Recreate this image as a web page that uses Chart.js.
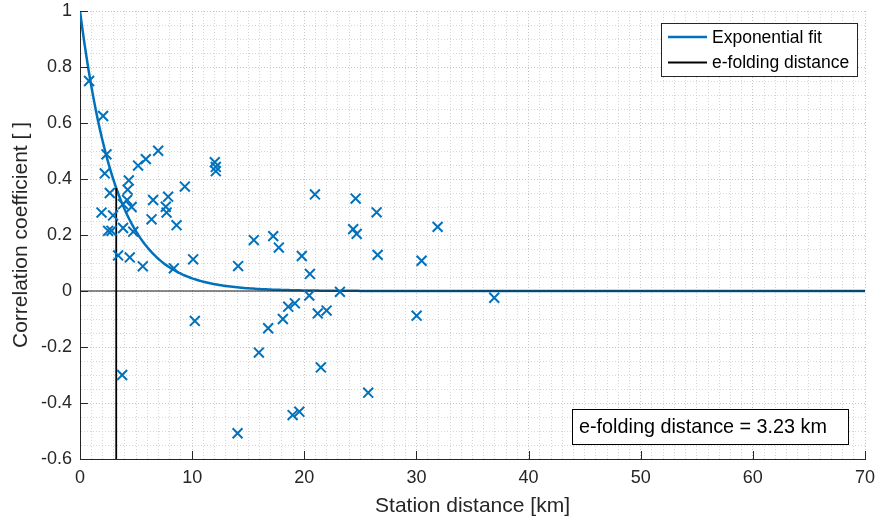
<!DOCTYPE html>
<html>
<head>
<meta charset="utf-8">
<script src="https://cdn.jsdelivr.net/npm/chart.js@4"></script>
<style>
  html, body { margin: 0; padding: 0; background: #fff; }
</style>
</head>
<body>
<canvas id="chart" width="879" height="522"></canvas>
<script>
// station pair separation (km) and correlation of the pair
const distKm = [
  0.81, 2.06, 2.36, 2.21, 2.66, 1.92, 2.51, 2.81, 2.95, 3.40,
  3.76, 3.84, 3.84, 4.35, 4.25, 4.20, 4.60, 4.75, 4.44, 5.18,
  5.87, 6.97, 5.60, 6.38, 6.52, 7.86, 7.65, 7.72, 8.61, 8.37,
  9.35, 10.09, 10.24, 12.02, 12.11, 12.11, 14.10, 14.05, 15.50, 15.95,
  16.78, 17.23, 17.73, 18.09, 18.57, 19.16, 18.96, 19.56, 19.78, 20.44,
  20.50, 20.95, 21.20, 21.99, 21.48, 23.18, 24.36, 24.67, 24.58, 25.70,
  26.45, 26.54, 30.02, 30.46, 31.89, 36.94
];
const corrCoef = [
  0.750, 0.625, 0.488, 0.420, 0.350, 0.280, 0.215, 0.215, 0.270, 0.127,
  -0.300, 0.310, 0.225, 0.395, 0.362, 0.325, 0.300, 0.212, 0.120, 0.448,
  0.471, 0.501, 0.088, 0.256, 0.325, 0.337, 0.301, 0.280, 0.235, 0.081,
  0.373, 0.113, -0.107, 0.460, 0.443, 0.428, 0.089, -0.508, 0.182, -0.220,
  -0.133, 0.196, 0.155, -0.100, -0.056, -0.044, -0.443, -0.431, 0.125, -0.016,
  0.061, 0.345, -0.080, -0.070, -0.273, -0.003, 0.221, 0.204, 0.330, -0.363,
  0.281, 0.129, -0.088, 0.108, 0.229, -0.024
];

// fitted e-folding distance (km)
const efoldKm = 3.23;

const xTicks = [0, 10, 20, 30, 40, 50, 60, 70];
const yTicks = [-0.6, -0.4, -0.2, 0, 0.2, 0.4, 0.6, 0.8, 1];
const xRange = [0, 70];
const yRange = [-0.6, 1];

const BLUE = '#0072BD';
const INK = '#262626';
const FONT = "'Liberation Sans', Arial, Helvetica, sans-serif";

const scatterPts = distKm.map((d, i) => ({ x: d, y: corrCoef[i] }));

// exponential model r = exp(-d / efold), sampled along the x range
const fitPts = [];
for (let d = xRange[0]; d <= xRange[1] + 1e-9; d += 0.2) {
  fitPts.push({ x: d, y: Math.exp(-d / efoldKm) });
}
const efoldPts = [{ x: efoldKm, y: yRange[0] }, { x: efoldKm, y: Math.exp(-1) }];
const zeroPts = [{ x: xRange[0], y: 0 }, { x: xRange[1], y: 0 }];

const isMajor = (v, list) => list.some(t => Math.abs(t - v) < 1e-6);

// inward tick marks, legend and the e-folding text box
const extras = {
  id: 'extras',
  afterDraw(chart) {
    const { ctx, chartArea: a, scales } = chart;
    ctx.save();
    ctx.strokeStyle = INK;
    ctx.lineWidth = 1;
    ctx.beginPath();
    xTicks.forEach(t => {
      const px = Math.round(scales.x.getPixelForValue(t)) + 0.5;
      ctx.moveTo(px, a.bottom);
      ctx.lineTo(px, a.bottom - 8);
    });
    yTicks.forEach(t => {
      const py = Math.round(scales.y.getPixelForValue(t)) + 0.5;
      ctx.moveTo(a.left, py);
      ctx.lineTo(a.left + 8, py);
    });
    ctx.stroke();

    // legend
    const lx = a.right - 204, ly = a.top + 12, lw = 196, lh = 53;
    ctx.fillStyle = '#fff';
    ctx.fillRect(lx, ly, lw, lh);
    ctx.strokeStyle = INK;
    ctx.strokeRect(lx + 0.5, ly + 0.5, lw, lh);
    const items = chart.data.datasets.filter(ds => ds.inLegend);
    ctx.font = '17.5px ' + FONT;
    ctx.textBaseline = 'middle';
    items.forEach((ds, i) => {
      const cy = ly + 14 + i * 25.5;
      ctx.strokeStyle = ds.borderColor;
      ctx.lineWidth = ds.borderWidth;
      ctx.beginPath();
      ctx.moveTo(lx + 7, cy);
      ctx.lineTo(lx + 46, cy);
      ctx.stroke();
      ctx.fillStyle = '#000';
      ctx.fillText(ds.label, lx + 51, cy + 1);
    });

    // text box
    const bx = a.right - 293, by = a.bottom - 50, bw = 276, bh = 35;
    ctx.fillStyle = '#fff';
    ctx.fillRect(bx, by, bw, bh);
    ctx.strokeStyle = '#000';
    ctx.lineWidth = 1;
    ctx.strokeRect(bx + 0.5, by + 0.5, bw, bh);
    ctx.fillStyle = '#000';
    ctx.font = '19.8px ' + FONT;
    ctx.fillText('e-folding distance = ' + efoldKm.toFixed(2) + ' km', bx + 7, by + bh / 2 + 1);
    ctx.restore();
  }
};

new Chart(document.getElementById('chart'), {
  type: 'scatter',
  data: {
    datasets: [
      {
        label: 'Exponential fit',
        type: 'line',
        data: fitPts,
        borderColor: BLUE,
        borderWidth: 2.5,
        pointRadius: 0,
        tension: 0,
        inLegend: true,
        order: 3
      },
      {
        label: 'zero',
        type: 'line',
        data: zeroPts,
        borderColor: '#1a1a1a',
        borderWidth: 1.2,
        pointRadius: 0,
        order: 2
      },
      {
        label: 'e-folding distance',
        type: 'line',
        data: efoldPts,
        borderColor: '#000',
        borderWidth: 1.8,
        pointRadius: 0,
        inLegend: true,
        order: 1
      },
      {
        label: 'Correlation',
        data: scatterPts,
        pointStyle: 'crossRot',
        pointRadius: 7,
        pointBorderWidth: 2,
        borderColor: BLUE,
        backgroundColor: BLUE,
        order: 0
      }
    ]
  },
  options: {
    responsive: false,
    animation: false,
    layout: { padding: { top: 11, right: 14, left: 0, bottom: 0 } },
    plugins: { legend: { display: false }, tooltip: { enabled: false } },
    scales: {
      x: {
        type: 'linear',
        min: xRange[0],
        max: xRange[1],
        afterFit: s => { s.height = 63; s.paddingLeft = 0; s.paddingRight = 0; },
        ticks: {
          stepSize: 1,
          autoSkip: false,
          maxRotation: 0,
          padding: 8,
          color: INK,
          font: { family: FONT, size: 18 },
          callback: v => isMajor(v, xTicks) ? String(v) : ''
        },
        grid: {
          drawTicks: false,
          color: c => isMajor(c.tick ? c.tick.value : NaN, xTicks) ? '#c4c4c4' : '#d6d6d6',
          lineWidth: 1
        },
        border: { display: true, color: INK, width: 1, dash: [1, 2] },
        title: {
          display: true,
          text: 'Station distance [km]',
          color: INK,
          font: { family: FONT, size: 21 },
          padding: { top: 0, bottom: 3 }
        }
      },
      y: {
        type: 'linear',
        min: yRange[0],
        max: yRange[1],
        afterFit: s => { s.width = 80; s.paddingTop = 0; s.paddingBottom = 0; },
        ticks: {
          stepSize: 0.05,
          autoSkip: false,
          padding: 8,
          color: INK,
          font: { family: FONT, size: 18 },
          callback: v => {
            const r = Math.round(v * 100) / 100;
            return isMajor(r, yTicks) ? String(r) : '';
          }
        },
        grid: {
          drawTicks: false,
          color: c => {
            const r = c.tick ? Math.round(c.tick.value * 100) / 100 : NaN;
            return isMajor(r, yTicks) ? '#c4c4c4' : '#d6d6d6';
          },
          lineWidth: 1
        },
        border: { display: true, color: INK, width: 1, dash: [1, 2] },
        title: {
          display: true,
          text: 'Correlation coefficient [ ]',
          color: INK,
          font: { family: FONT, size: 21 },
          padding: { top: 9, bottom: 0 }
        }
      }
    }
  },
  plugins: [extras]
});
</script>
</body>
</html>
